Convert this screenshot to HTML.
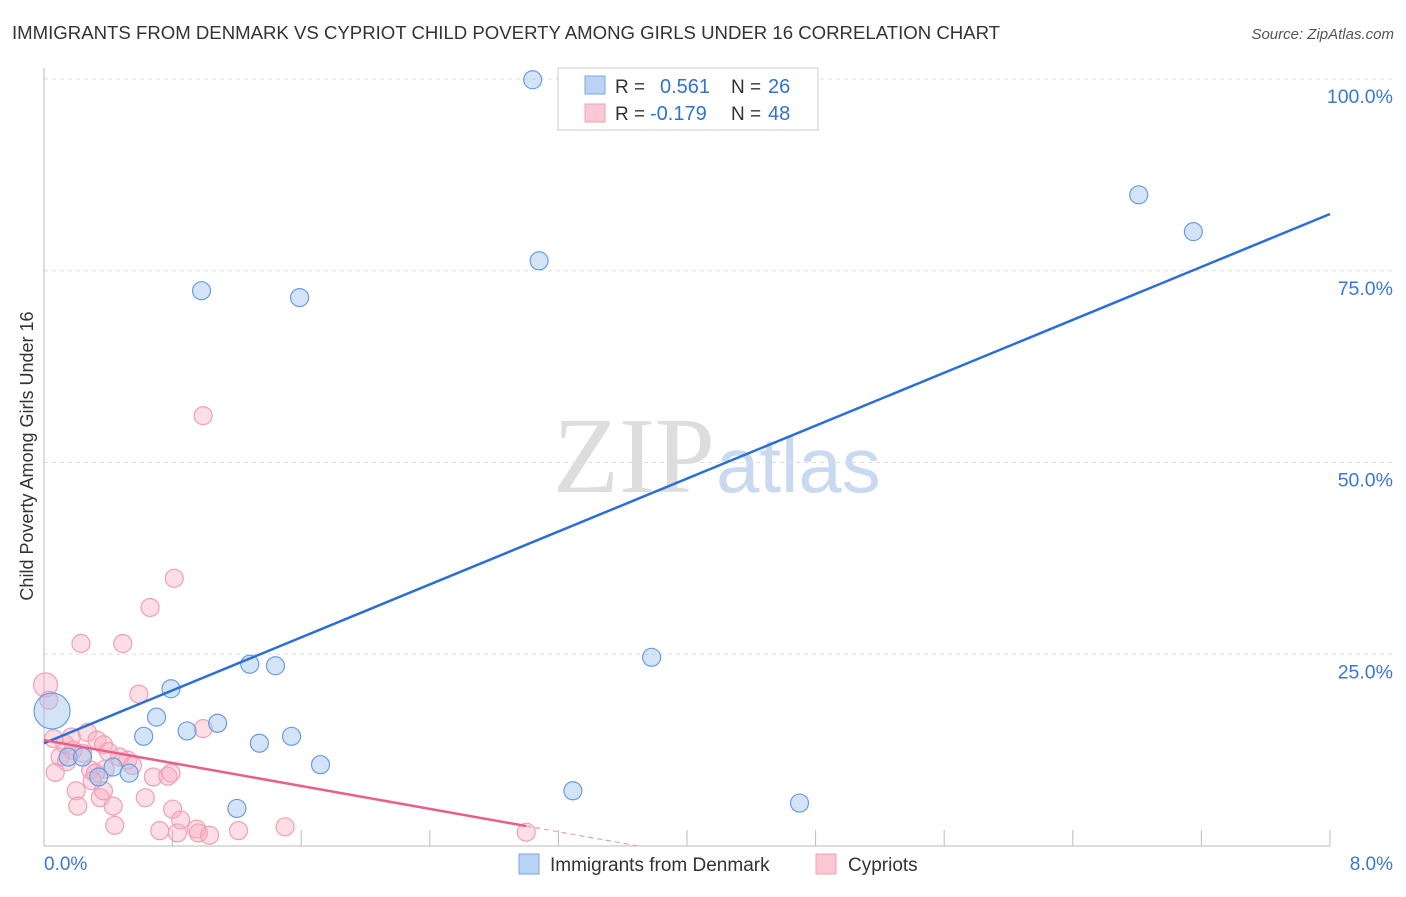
<!DOCTYPE html>
<html><head><meta charset="utf-8"><style>
body{margin:0;background:#fff;font-family:"Liberation Sans",sans-serif;}
</style></head><body>
<svg width="1406" height="892" xmlns="http://www.w3.org/2000/svg">
<text x="12" y="39" font-size="18.6" fill="#333">IMMIGRANTS FROM DENMARK VS CYPRIOT CHILD POVERTY AMONG GIRLS UNDER 16 CORRELATION CHART</text>
<text x="1394" y="39" font-size="15" fill="#555" font-style="italic" text-anchor="end">Source: ZipAtlas.com</text>
<text x="33" y="456" font-size="18" fill="#333" text-anchor="middle" transform="rotate(-90 33 456)">Child Poverty Among Girls Under 16</text>
<text x="553" y="492" font-size="108" fill="#ddd" font-family="Liberation Serif,serif">ZIP</text>
<text x="716" y="492" font-size="78" fill="#c9daf0">atlas</text>
<g id="grid"></g><g id="axes"></g><g id="pts"></g><g id="lines"></g>
<g>
<rect x="558" y="68" width="260" height="62" fill="#fff" stroke="#ccc"/>
<rect x="585" y="76" width="20" height="18" fill="#b9d3f5" stroke="#7aa7e0"/>
<rect x="585" y="104" width="20" height="18" fill="#fcc8d6" stroke="#eea0b6"/>
<text x="615" y="93" font-size="19" fill="#333">R = </text><text x="660" y="93" font-size="20" fill="#3373cc">0.561</text>
<text x="731" y="93" font-size="19" fill="#333">N = </text><text x="768" y="93" font-size="20" fill="#3373cc">26</text>
<text x="615" y="120" font-size="19" fill="#333">R = </text><text x="650" y="120" font-size="20" fill="#3373cc">-0.179</text>
<text x="731" y="120" font-size="19" fill="#333">N = </text><text x="768" y="120" font-size="20" fill="#3373cc">48</text>
</g>
<g>
<rect x="519" y="854" width="20" height="20" fill="#b9d3f5" stroke="#7aa7e0"/>
<text x="550" y="871" font-size="19" fill="#333">Immigrants from Denmark</text>
<rect x="816" y="854" width="20" height="20" fill="#fcc8d6" stroke="#eea0b6"/>
<text x="848" y="871" font-size="19" fill="#333">Cypriots</text>
</g>
</svg>
<script>
const xTicks=[0,8];
const yTicks=[25,50,75,100];
const blueX=[3.04,6.81,7.15,3.08,0.98,1.59,3.78,1.28,1.44,0.79,0.70,1.08,0.62,0.89,1.34,1.54,0.05,0.15,0.24,0.34,0.43,0.53,1.72,1.20,3.29,4.70];
const blueY=[99.9,84.9,80.1,76.3,72.4,71.5,24.6,23.7,23.5,20.5,16.8,16.0,14.3,15.0,13.4,14.3,17.6,11.6,11.6,9.0,10.3,9.5,10.6,4.9,7.2,5.6];
const pinkX=[0.01,0.03,0.23,0.49,0.81,0.66,0.99,0.59,0.99,0.07,0.10,0.13,0.17,0.27,0.33,0.24,0.37,0.29,0.38,0.32,0.20,0.21,0.35,0.37,0.43,0.44,0.52,0.47,0.40,0.63,0.68,0.77,0.79,0.80,0.85,0.72,0.83,0.95,0.96,1.03,1.21,1.50,3.00,0.06,0.14,0.55,0.30,0.18];
const pinkY=[21.0,19.0,26.4,26.4,34.9,31.1,56.1,19.8,15.3,9.6,11.6,13.3,14.2,14.8,13.8,12.1,13.2,9.9,10.0,9.5,7.2,5.2,6.3,7.2,5.2,2.7,11.2,11.6,12.3,6.3,9.0,9.1,9.5,4.8,3.4,2.0,1.7,2.2,1.7,1.4,2.0,2.5,1.8,14.0,11.0,10.5,8.5,12.5];
const blueTrend=[13.4,82.4];
const pinkTrend=[13.8,2.6];
const NS='http://www.w3.org/2000/svg';
const X=v=>44+v*160.75, Y=v=>846-v*7.67;
function mk(tag,at,parent){const e=document.createElementNS(NS,tag);for(const k in at)e.setAttribute(k,at[k]);document.getElementById(parent).appendChild(e);return e;}
yTicks.forEach(t=>{
 const l=mk('line',{x1:44,x2:1394,y1:Y(t),y2:Y(t),stroke:'#ddd','stroke-dasharray':'4,4'},'grid');
 
 
 const tx=mk('text',{x:1393,y:Y(t)+24,'font-size':19.5,fill:'#3a78d4','text-anchor':'end'},'grid');
 tx.textContent=t.toFixed(1)+'%';
 
 
});
let a=mk('line',{x1:44,x2:44,y1:68,y2:846,stroke:'#bbb'},'axes');


a=mk('line',{x1:44,x2:1330,y1:846,y2:846,stroke:'#bbb'},'axes');


for(let i=1;i<=10;i++){const t=mk('line',{x1:X(i*0.8),x2:X(i*0.8),y1:830,y2:846,stroke:'#bbb'},'axes');
 
 }
xTicks.forEach((t,i)=>{const tx=mk('text',{x:i?1393:44,y:870,'font-size':19,fill:'#3a78d4','text-anchor':i?'end':'start'},'axes');
 tx.textContent=t.toFixed(1)+'%';
 
 });
pinkX.forEach((v,i)=>{const c=mk('circle',{cx:X(v),cy:Y(pinkY[i]),r:(i<1?12:9),fill:'rgba(249,170,192,0.4)',stroke:'#eea0b6','stroke-width':1.2},'pts');
 
 });
blueX.forEach((v,i)=>{const c=mk('circle',{cx:X(v),cy:Y(blueY[i]),r:(i==16?18:9),fill:'rgba(160,195,240,0.45)',stroke:'#6a9de0','stroke-width':1.2},'pts');
 
 });
let t=mk('line',{x1:X(0),y1:Y(blueTrend[0]),x2:X(8),y2:Y(blueTrend[1]),stroke:'#2b6fd6','stroke-width':2.5},'lines');


const ps=(pinkTrend[1]-pinkTrend[0])/3;
t=mk('line',{x1:X(0),y1:Y(pinkTrend[0]),x2:X(3),y2:Y(pinkTrend[1]),stroke:'#e8608a','stroke-width':2.5},'lines');


const xe=-pinkTrend[0]/ps;
t=mk('line',{x1:X(3),y1:Y(pinkTrend[1]),x2:X(xe),y2:Y(0),stroke:'#e8a0b6','stroke-width':1.2,'stroke-dasharray':'5,4'},'lines');


</script>
</body></html>
